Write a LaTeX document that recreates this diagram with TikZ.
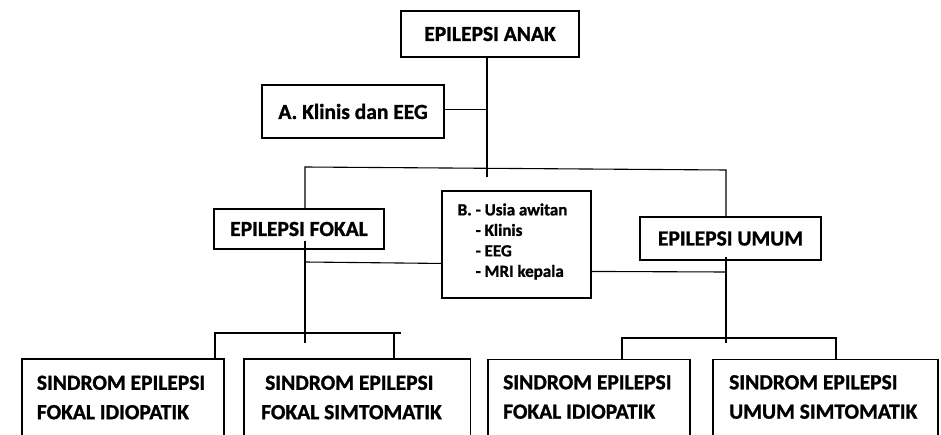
\documentclass[tikz,border=0pt]{standalone}
\usepackage{fontspec}
\setmainfont{Carlito}[BoldFont={Carlito Bold},BoldFeatures={FakeBold=1.2}]
\usetikzlibrary{calc}
\begin{document}
\begin{tikzpicture}[x=1pt,y=-1pt,
  box/.style={draw, line width=1.1pt, inner sep=0pt, font=\bfseries\fontsize{21.5}{29}\selectfont},
  link/.style={line width=1.1pt},
  lbl/.style={inner sep=0pt, anchor=west, align=left, font=\bfseries\fontsize{21.5}{29.4}\selectfont},
  small/.style={inner sep=0pt, anchor=west, align=left, font=\bfseries\fontsize{17}{20.5}\selectfont}]
\useasboundingbox (0,0) rectangle (941,435);
\fill[white] (0,0) rectangle (941,435);

% main nodes
\node[box, minimum width=178pt, minimum height=46pt] (anak) at (490,34) {EPILEPSI ANAK};
\node[box, minimum width=182pt, minimum height=53pt] (klinis) at (353,111.5) {A. Klinis dan EEG};
\node[box, minimum width=170pt, minimum height=40pt] (fokal) at (299,229) {EPILEPSI FOKAL};
\node[box, minimum width=149pt, minimum height=107pt] (b) at (516.5,244.5) {};
\node[small] (btext) at (457.5,241.5) {B. - Usia awitan\\\phantom{B. }- Klinis\\\phantom{B. }- EEG\\\phantom{B. }- MRI kepala};
\node[box, minimum width=181pt, minimum height=43pt] (umum) at (730.5,238.5) {EPILEPSI UMUM};

% bottom boxes
\node[box, minimum width=202pt, minimum height=83pt] (s1) at (123,400.5) {};
\node[box, minimum width=226.5pt, minimum height=83pt] (s2) at (357.25,400.5) {};
\node[box, minimum width=202pt, minimum height=83pt] (s3) at (589,401) {};
\node[box, minimum width=225pt, minimum height=83pt] (s4) at (825.5,401) {};
\node[lbl] (t1) at (36.7,397.5) {SINDROM EPILEPSI\\FOKAL IDIOPATIK};
\node[lbl] (t2) at (261,397.5) {\hspace{4pt}SINDROM EPILEPSI\\FOKAL SIMTOMATIK};
\node[lbl] (t3) at (503,397) {SINDROM EPILEPSI\\FOKAL IDIOPATIK};
\node[lbl] (t4) at (729,397) {SINDROM EPILEPSI\\UMUM SIMTOMATIK};

% junction coordinates
\coordinate (jA) at (487,109.5);
\coordinate (stub) at (487,177);
\coordinate (hl) at (305,167);
\coordinate (hr) at (726,170);
\coordinate (fj) at (305,262);
\coordinate (fd) at (305,343);
\coordinate (uj) at (726,272);
\coordinate (ud) at (726,343);
\coordinate (L1) at (215,333);
\coordinate (L2) at (394,333);
\coordinate (L3) at (401,333);
\coordinate (R1) at (622,338);
\coordinate (R2) at (836,338);

% connectors
\draw[link] (anak.south -| jA) -- (stub);
\draw[link] (klinis.east |- jA) -- (jA);
\draw[link] (fokal.north -| hl) -- (hl) -- (hr) -- (umum.north -| hr);
\draw[link] ($(fokal.south -| fd)+(0,-9)$) -- (fd);
\draw[link] (fj) -- ($(b.north west)+(0,73)$);
\draw[link] ($(b.north east)+(0,81)$) -- (uj);
\draw[link] ($(umum.south -| ud)+(0,-4)$) -- (ud);
\draw[link] (s1.north -| L1) -- (L1) -- (L3);
\draw[link] (L2) -- (s2.north -| L2);
\draw[link] (s3.north -| R1) -- (R1) -- (R2) -- (s4.north -| R2);
\end{tikzpicture}
\end{document}
